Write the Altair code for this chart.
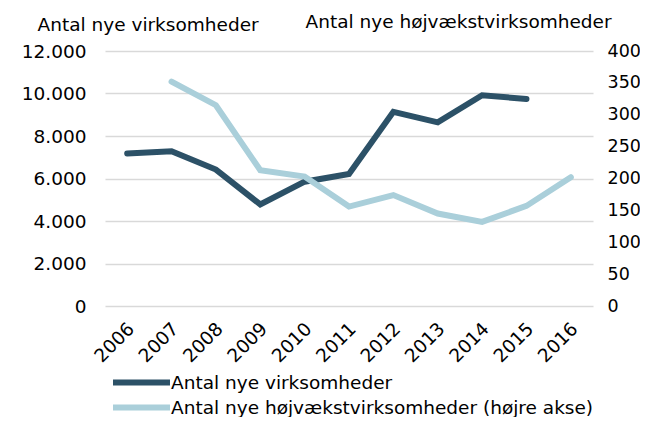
import altair as alt
import pandas as pd

years = ["2006", "2007", "2008", "2009", "2010", "2011", "2012", "2013", "2014", "2015", "2016"]
new_firms_years = ["2006", "2007", "2008", "2009", "2010", "2011", "2012", "2013", "2014", "2015"]
new_firms = [7180, 7280, 6420, 4780, 5850, 6210, 9140, 8640, 9920, 9740]
growth_years = ["2007", "2008", "2009", "2010", "2011", "2012", "2013", "2014", "2015", "2016"]
growth_firms = [352, 315, 213, 203, 156, 174, 145, 132, 157, 202]

s1 = "Antal nye virksomheder"
s2 = "Antal nye højvækstvirksomheder (højre akse)"
dark = "#2C5167"
light = "#AACFDA"
FONT = "DejaVu Sans"
FS = 18.5

df1 = pd.DataFrame({"year": new_firms_years, "value": new_firms, "series": s1})
df2 = pd.DataFrame({"year": growth_years, "value": growth_firms, "series": s2})

x = alt.X("year:O", scale=alt.Scale(domain=years),
          axis=alt.Axis(title=None, labelAngle=-45, labelAlign="right", labelBaseline="top",
                        domain=False, ticks=False, labelPadding=13, labelOffset=-3,
                        labelFont=FONT, labelFontSize=FS, labelColor="#000000", grid=False))

color = alt.Color("series:N",
                  scale=alt.Scale(domain=[s1, s2], range=[dark, light]),
                  legend=alt.Legend(title=None, orient="none", legendX=26, legendY=321,
                                    direction="vertical", symbolType="M-4,0H4",
                                    symbolStrokeWidth=6, symbolSize=203,
                                    labelFont=FONT, labelFontSize=FS, labelColor="#000000",
                                    labelOffset=19, rowPadding=0, labelLimit=600))

line1 = alt.Chart(df1).mark_line(strokeWidth=6, strokeCap="round").encode(
    x=x,
    y=alt.Y("value:Q", scale=alt.Scale(domain=[0, 12000]),
            axis=alt.Axis(title=s1, titleAngle=0, titleAlign="left", titleBaseline="alphabetic",
                          titleX=-68, titleY=-21, titleFont=FONT, titleFontSize=FS,
                          titleFontWeight="normal", titleColor="#000000",
                          values=[0, 2000, 4000, 6000, 8000, 10000, 12000],
                          labelExpr="replace(format(datum.value, ','), ',', '.')",
                          domain=False, ticks=False, labelPadding=19, labelFont=FONT,
                          labelFontSize=FS, labelColor="#000000",
                          grid=True, gridColor="#D9D9D9", gridWidth=1.5)),
    color=color,
)

line2 = alt.Chart(df2).mark_line(strokeWidth=6, strokeCap="round").encode(
    x=x,
    y=alt.Y("value:Q", scale=alt.Scale(domain=[0, 400]),
            axis=alt.Axis(orient="right", title="Antal nye højvækstvirksomheder", titleAngle=0,
                          titleAlign="left", titleBaseline="alphabetic",
                          titleX=-288, titleY=-24, titleFont=FONT, titleFontSize=FS,
                          titleFontWeight="normal", titleColor="#000000",
                          values=[0, 50, 100, 150, 200, 250, 300, 350, 400],
                          domain=False, ticks=False, labelPadding=14, labelFont=FONT,
                          labelFontSize=17.5, labelColor="#000000", grid=False)),
    color=color,
)

chart = alt.layer(line1, line2).resolve_scale(y="independent").properties(
    width=488, height=255,
    autosize=alt.AutoSizeParams(type="none"),
    padding={"left": 97, "top": 43, "right": 47, "bottom": 111},
).configure_view(stroke=None)

chart.save("out.html", embed_options={"renderer": "svg", "actions": False})
